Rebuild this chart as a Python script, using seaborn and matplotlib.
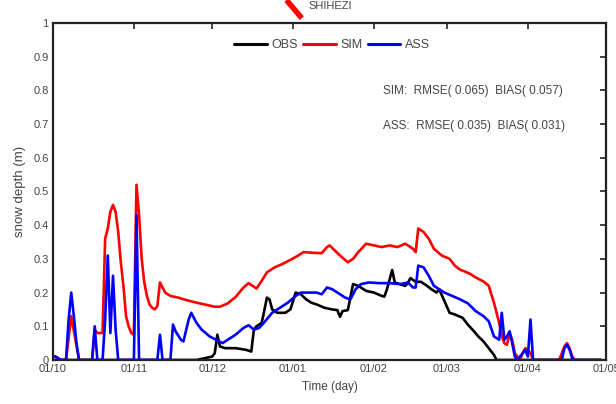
import numpy as np
import pandas as pd
import matplotlib
matplotlib.use("Agg")
import matplotlib.pyplot as plt
import matplotlib.dates as mdates
from matplotlib.lines import Line2D
import seaborn as sns

# ---- data (days since START) ----
START = "2012-10-01"
obs_day = [0, 55, 58, 61, 62, 63, 64, 66, 70, 74, 76, 77, 78, 80, 82, 83, 84, 86, 89, 91, 93, 95, 97, 99,
           101, 104, 107, 109, 110, 111, 113, 115, 117, 120, 123, 126, 127, 128, 130, 131, 133, 135, 136,
           137, 139, 141, 143, 145, 147, 148, 150, 152, 154, 157, 159, 161, 163, 165, 167, 169, 170, 210]
obs_val = [0.0, 0.0, 0.005, 0.01, 0.02, 0.075, 0.04, 0.035, 0.035, 0.03, 0.025, 0.09, 0.10, 0.11, 0.185,
           0.18, 0.15, 0.14, 0.14, 0.15, 0.20, 0.195, 0.18, 0.17, 0.165, 0.155, 0.15, 0.148, 0.128, 0.145,
           0.148, 0.225, 0.22, 0.205, 0.20, 0.19, 0.188, 0.21, 0.267, 0.23, 0.225, 0.22, 0.228, 0.243, 0.232,
           0.232, 0.222, 0.21, 0.20, 0.21, 0.175, 0.14, 0.135, 0.125, 0.105, 0.088, 0.07, 0.055, 0.035,
           0.015, 0.0, 0.0]

sim_day = [0, 1, 3, 5, 7, 10, 15, 16, 17, 19, 20, 21, 22, 23, 24, 25, 26, 27, 28, 29, 30, 31, 32, 33, 34,
           35, 36, 37, 38, 39, 40, 41, 42, 43, 45, 48, 51, 55, 58, 62, 64, 67, 70, 73, 75, 78, 80, 82, 85,
           88, 91, 94, 96, 100, 103, 105, 106, 108, 110, 113, 115, 117, 120, 123, 126, 129, 132, 135, 138,
           139, 140, 142, 144, 146, 149, 152, 154, 156, 158, 160, 162, 165, 167, 169, 171, 172, 173, 174,
           175, 176, 177, 178, 179, 180, 181, 182, 183, 184, 194, 196, 197, 198, 199, 200, 210]
sim_val = [0.01, 0.01, 0.0, 0.0, 0.13, 0.0, 0.0, 0.09, 0.08, 0.08, 0.36, 0.39, 0.44, 0.46, 0.44, 0.38,
           0.29, 0.22, 0.13, 0.10, 0.08, 0.075, 0.52, 0.43, 0.30, 0.23, 0.19, 0.165, 0.155, 0.15, 0.16,
           0.23, 0.215, 0.20, 0.19, 0.185, 0.178, 0.17, 0.165, 0.158, 0.158, 0.168, 0.187, 0.215, 0.228,
           0.212, 0.235, 0.26, 0.275, 0.285, 0.297, 0.31, 0.32, 0.318, 0.317, 0.335, 0.34, 0.325, 0.31,
           0.29, 0.30, 0.32, 0.345, 0.34, 0.335, 0.34, 0.335, 0.345, 0.33, 0.32, 0.39, 0.38, 0.36, 0.33,
           0.31, 0.30, 0.28, 0.268, 0.262, 0.255, 0.245, 0.233, 0.22, 0.17, 0.11, 0.07, 0.05, 0.045, 0.08,
           0.06, 0.02, 0.01, 0.0, 0.02, 0.035, 0.03, 0.02, 0.0, 0.0, 0.04, 0.05, 0.035, 0.01, 0.0, 0.0]

ass_day = [0, 1, 2, 3, 5, 6, 7, 8, 9, 10, 15, 16, 17, 19, 20, 21, 22, 23, 24, 25, 31, 32, 33, 40, 41, 42,
           45, 46, 47, 49, 50, 52, 53, 55, 57, 60, 63, 65, 67, 70, 73, 75, 77, 79, 81, 84, 87, 90, 93, 95,
           98, 101, 103, 105, 107, 109, 112, 114, 116, 118, 121, 125, 129, 133, 136, 138, 139, 140, 142,
           144, 146, 148, 150, 153, 156, 159, 162, 165, 167, 169, 171, 172, 173, 174, 175, 176, 177, 178,
           180, 181, 182, 183, 184, 195, 196, 197, 198, 199, 200, 210]
ass_val = [0.01, 0.01, 0.005, 0.0, 0.0, 0.12, 0.20, 0.13, 0.05, 0.0, 0.0, 0.10, 0.0, 0.0, 0.12, 0.31,
           0.08, 0.25, 0.09, 0.0, 0.0, 0.43, 0.0, 0.0, 0.075, 0.0, 0.0, 0.105, 0.085, 0.06, 0.055, 0.12,
           0.14, 0.11, 0.09, 0.07, 0.058, 0.05, 0.06, 0.075, 0.095, 0.103, 0.09, 0.095, 0.112, 0.14, 0.155,
           0.17, 0.19, 0.20, 0.20, 0.20, 0.195, 0.215, 0.21, 0.20, 0.185, 0.18, 0.21, 0.225, 0.23, 0.228,
           0.228, 0.225, 0.23, 0.215, 0.215, 0.28, 0.275, 0.25, 0.22, 0.21, 0.20, 0.19, 0.18, 0.168, 0.145,
           0.13, 0.115, 0.07, 0.06, 0.14, 0.06, 0.07, 0.085, 0.05, 0.01, 0.0, 0.02, 0.03, 0.01, 0.12, 0.0,
           0.0, 0.035, 0.045, 0.03, 0.005, 0.0, 0.0]

series_names = ["OBS", "SIM", "ASS"]
series_colors = ["black", "red", "blue"]
xtick_dates = ["2012-10-01", "2012-11-01", "2012-12-01", "2013-01-01", "2013-02-01",
               "2013-03-01", "2013-04-01", "2013-05-01"]
yticks = [0, 0.1, 0.2, 0.3, 0.4, 0.5, 0.6, 0.7, 0.8, 0.9, 1]
ytick_labels = ["0", "0.1", "0.2", "0.3", "0.4", "0.5", "0.6", "0.7", "0.8", "0.9", "1"]
stats_lines = ["SIM:  RMSE( 0.065)  BIAS( 0.057)", "ASS:  RMSE( 0.035)  BIAS( 0.031)"]
title = "SHIHEZI"

# ---- build frame ----
start = pd.Timestamp(START)
frames = []
for name, d, v in [("OBS", obs_day, obs_val), ("SIM", sim_day, sim_val), ("ASS", ass_day, ass_val)]:
    frames.append(pd.DataFrame({"date": start + pd.to_timedelta(d, unit="D"), "depth": v, "series": name}))
df = pd.concat(frames, ignore_index=True)

sns.set_theme(style="white")
plt.rcParams["font.family"] = ["Liberation Sans", "DejaVu Sans"]

fig = plt.figure(figsize=(6.16, 4.04), dpi=100)
ax = fig.add_axes([0.086, 0.109, 0.898, 0.834])

sns.lineplot(data=df, x="date", y="depth", hue="series", hue_order=series_names,
             palette=dict(zip(series_names, series_colors)), linewidth=1.9,
             estimator=None, sort=True, ax=ax, legend=False)

ax.set_xlim(pd.Timestamp(xtick_dates[0]), pd.Timestamp(xtick_dates[-1]))
ax.set_ylim(0, 1)
ax.set_xticks([pd.Timestamp(t) for t in xtick_dates])
ax.xaxis.set_major_formatter(mdates.DateFormatter("%d/%m"))
ax.set_yticks(yticks)
ax.set_yticklabels(ytick_labels)

tc = "#444444"
ax.tick_params(axis="both", direction="in", length=4, width=1.2, colors="#222222",
               labelcolor=tc, labelsize=8, top=True, right=True, pad=3)
for s in ax.spines.values():
    s.set_color("#222222")
    s.set_linewidth(1.6)

ax.set_xlabel("Time (day)", fontsize=8.5, color=tc, labelpad=5)
ax.set_ylabel("snow depth (m)", fontsize=9.5, color=tc, labelpad=5)

handles = [Line2D([0], [0], color=c, lw=2.2) for c in series_colors]
leg = ax.legend(handles, series_names, loc="center", bbox_to_anchor=(0.505, 0.935), ncol=3,
                frameon=False, fontsize=9, handlelength=2.6, handletextpad=0.4,
                columnspacing=0.4, labelcolor=tc)

ax.text(0.597, 0.798, stats_lines[0], transform=ax.transAxes, fontsize=8.5, color=tc, va="center")
ax.text(0.597, 0.694, stats_lines[1], transform=ax.transAxes, fontsize=8.5, color=tc, va="center")

fig.text(0.50, 0.985, title, fontsize=8, color=tc, ha="left", va="center")
fig.add_artist(Line2D([0.465, 0.49], [1.0, 0.955], transform=fig.transFigure,
                      color="red", lw=4, solid_capstyle="butt"))

fig.savefig("out.png", dpi=100, facecolor="white")
